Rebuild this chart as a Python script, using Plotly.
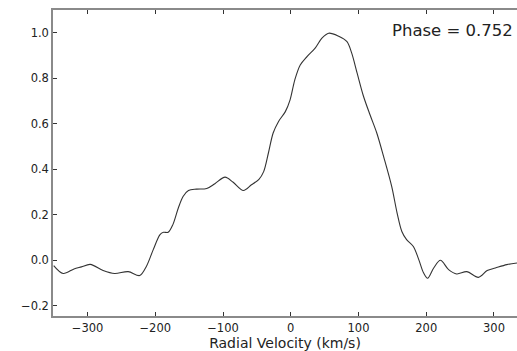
import plotly.graph_objects as go

velocity = [-350, -336, -320, -309, -296, -277, -260, -240, -223, -213,
            -203, -193, -188, -181, -174, -166, -159, -151, -139, -124,
            -112, -97, -85, -70, -58, -47, -40, -33, -26, -18,
            -8, -1, 6, 14, 24, 36, 46, 56, 70, 83,
            90, 98, 107, 117, 127, 137, 149, 157, 164, 171,
            181, 189, 196, 202, 211, 221, 233, 245, 260, 277,
            290, 302, 319, 334]
flux = [-0.023, -0.058, -0.038, -0.029, -0.018, -0.045, -0.058, -0.050, -0.067, -0.026,
        0.047, 0.113, 0.123, 0.123, 0.157, 0.23, 0.281, 0.307, 0.313, 0.316,
        0.337, 0.366, 0.343, 0.307, 0.332, 0.356, 0.39, 0.472, 0.560, 0.611,
        0.654, 0.706, 0.794, 0.859, 0.896, 0.933, 0.977, 0.999, 0.987, 0.962,
        0.911, 0.823, 0.725, 0.640, 0.560, 0.457, 0.325, 0.208, 0.127, 0.091,
        0.061, 0.003, -0.055, -0.079, -0.034, 0.0, -0.041, -0.060, -0.050, -0.075,
        -0.045, -0.034, -0.019, -0.012]

x_ticks = [-300, -200, -100, 0, 100, 200, 300]
y_ticks = [-0.2, 0.0, 0.2, 0.4, 0.6, 0.8, 1.0]
phase_label = "Phase = 0.752"

FONT = "DejaVu Sans"

fig = go.Figure()
fig.add_trace(go.Scatter(
    x=velocity, y=flux, mode="lines",
    line=dict(color="#333333", width=1.1, shape="spline", smoothing=0.9),
    showlegend=False, hoverinfo="skip",
))

axis_common = dict(
    showgrid=False, zeroline=False, showline=True,
    linecolor="#8a8a8a", linewidth=1.5,
    ticks="inside", ticklen=4, tickwidth=1, tickcolor="#333333",
    tickfont=dict(family=FONT, size=11.5, color="#222222"),
)

fig.update_xaxes(
    range=[-351, 334], tickvals=x_ticks,
    ticktext=[("\u2212" + str(abs(t))) if t < 0 else str(t) for t in x_ticks],
    mirror="ticks",
    title=dict(text="Radial Velocity (km/s)", font=dict(family=FONT, size=14, color="#222222"), standoff=6),
    **axis_common,
)
fig.update_yaxes(
    range=[-0.245, 1.101], tickvals=y_ticks,
    ticktext=[("\u2212%.1f" % abs(t)) if t < 0 else "%.1f" % t for t in y_ticks],
    mirror=False,
    **axis_common,
)

fig.add_annotation(
    text=phase_label, xref="paper", yref="paper", x=1.0, xshift=-2, y=0.932,
    xanchor="right", yanchor="middle", showarrow=False,
    font=dict(family=FONT, size=16.5, color="#222222"),
)

fig.update_layout(
    width=517, height=351,
    margin=dict(l=53, r=0, t=10, b=35),
    paper_bgcolor="white", plot_bgcolor="white",
)

fig.write_html("out.html")
